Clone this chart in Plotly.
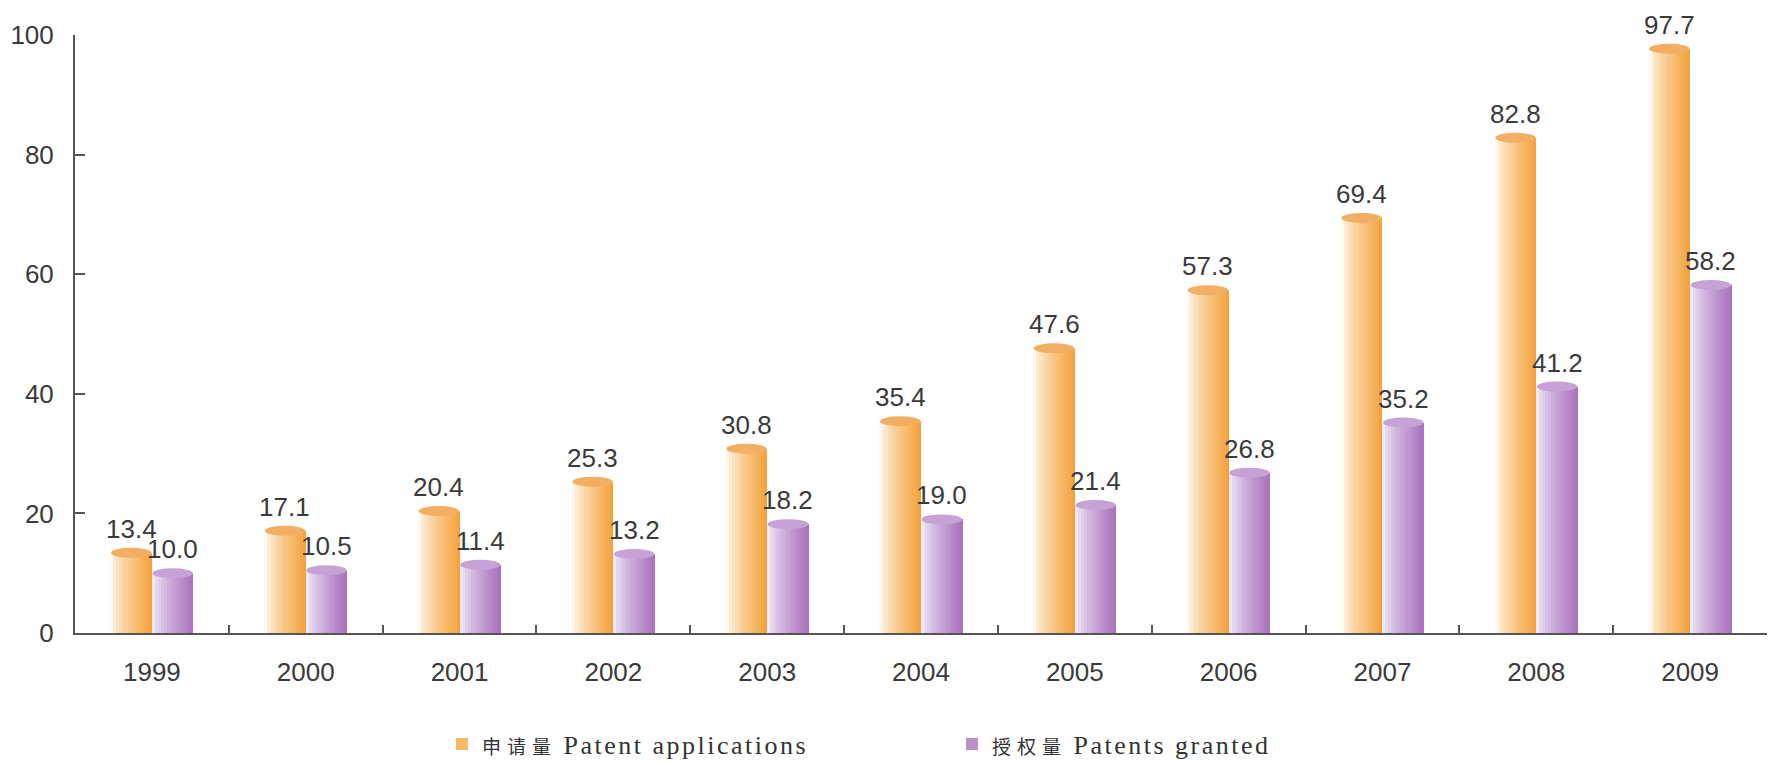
import plotly.graph_objects as go

# Patent applications vs. patents granted, 1999-2009
years = ["1999", "2000", "2001", "2002", "2003", "2004", "2005", "2006", "2007", "2008", "2009"]
applications = [13.4, 17.1, 20.4, 25.3, 30.8, 35.4, 47.6, 57.3, 69.4, 82.8, 97.7]
granted = [10.0, 10.5, 11.4, 13.2, 18.2, 19.0, 21.4, 26.8, 35.2, 41.2, 58.2]
y_ticks = [0, 20, 40, 60, 80, 100]

CJK = "font-family:'Noto Sans CJK SC';font-size:19px;letter-spacing:6px"
LAT = "letter-spacing:2.5px"
series = [
    dict(name=f'<span style="{CJK}">申请量</span> <span style="{LAT}">Patent applications</span>',
         values=applications, offset=-0.27, light=(255, 248, 238), dark=(244, 164, 62),
         cap="#F2AE62", key="app"),
    dict(name=f'<span style="{CJK}">授权量</span> <span style="{LAT}">Patents granted</span>',
         values=granted, offset=0.0, light=(240, 234, 247), dark=(170, 116, 190),
         cap="#C6A2D6", key="grant"),
]

BAR_W = 0.27
SLICES = 14
CAP_PX = 5  # half-height of the cylinder cap, in pixels

W, H = 1780, 764
M = dict(l=75, r=13, t=35, b=131, autoexpand=False)
plot_w = W - M["l"] - M["r"]
plot_h = H - M["t"] - M["b"]
cap_units = CAP_PX * 100 / plot_h


def mix(a, b, t):
    return "rgb(%d,%d,%d)" % tuple(round(a[i] + (b[i] - a[i]) * t) for i in range(3))


fig = go.Figure()
shapes = []
annotations = []

for s in series:
    sw = BAR_W / SLICES
    for k in range(SLICES):
        t = (k / (SLICES - 1)) ** 0.75
        col = mix(s["light"], s["dark"], t)
        fig.add_trace(go.Bar(
            x=years, y=s["values"],
            width=sw * 1.25 if k < SLICES - 1 else sw,
            offset=s["offset"] + k * sw,
            marker=dict(color=col, line=dict(width=0)),
            name=s["name"],
            legendgroup=s["key"],
            showlegend=(k == SLICES * 2 // 3),
            hoverinfo="skip",
        ))
    for i, v in enumerate(s["values"]):
        # elliptical cap on top of each cylinder
        shapes.append(dict(
            type="circle", xref="x", yref="y",
            x0=i + s["offset"] + 0.004, x1=i + s["offset"] + BAR_W - 0.004,
            y0=v - cap_units, y1=v + cap_units,
            fillcolor=s["cap"], line=dict(width=0), layer="above",
        ))
        annotations.append(dict(
            x=i + s["offset"] + BAR_W / 2, y=v, xref="x", yref="y",
            text=f"{v:.1f}", showarrow=False, yanchor="bottom", yshift=CAP_PX + 2,
            font=dict(family="Liberation Sans, Arial", size=26, color="#3a3a3a"),
        ))

fig.update_layout(
    width=W, height=H, margin=M,
    paper_bgcolor="white", plot_bgcolor="white",
    barmode="overlay", bargap=0,
    shapes=shapes, annotations=annotations,
    showlegend=True,
    legend=dict(
        orientation="h", x=(442 - M["l"]) / plot_w, xanchor="left",
        y=-(744 - (H - M["b"])) / plot_h, yanchor="middle",
        font=dict(family="Liberation Serif, Times New Roman", size=26, color="#333333"),
        itemwidth=30, entrywidth=465, entrywidthmode="pixels",
        traceorder="normal", bgcolor="rgba(0,0,0,0)",
    ),
    xaxis=dict(
        type="category", categoryorder="array", categoryarray=years,
        range=[-0.5, len(years) - 0.5],
        showline=True, linecolor="#555555", linewidth=2,
        ticks="inside", tickson="boundaries", ticklen=8, tickwidth=2, tickcolor="#555555",
        tickfont=dict(family="Liberation Sans, Arial", size=26, color="#3a3a3a"),
        ticklabelstandoff=15, showgrid=False, zeroline=False,
    ),
    yaxis=dict(
        range=[0, 100], tickvals=y_ticks,
        showline=True, linecolor="#555555", linewidth=2,
        ticks="inside", ticklen=10, tickwidth=2, tickcolor="#555555",
        tickfont=dict(family="Liberation Sans, Arial", size=26, color="#3a3a3a"),
        ticklabelstandoff=14, showgrid=False, zeroline=False,
    ),
)

fig.write_html("out.html")
